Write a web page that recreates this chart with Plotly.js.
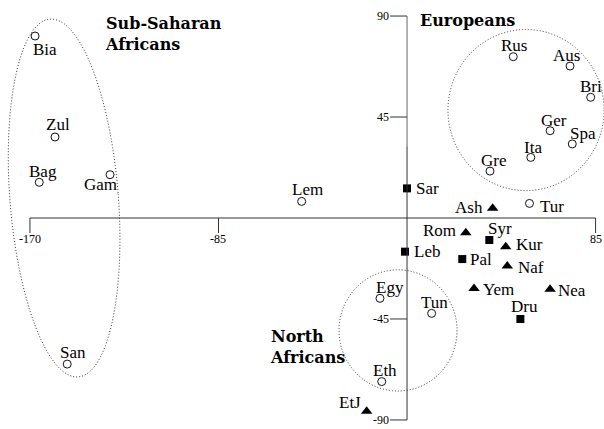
<!DOCTYPE html>
<html>
<head>
<meta charset="utf-8">
<script src="https://cdn.plot.ly/plotly-3.0.1.min.js"></script>
<style>
  html, body { margin: 0; padding: 0; background: #fff; }
  #chart { width: 604px; height: 429px; }
</style>
</head>
<body>
<div id="chart"></div>
<script>
// ---- data ----
const circleNames = ["Bia","Zul","Bag","Gam","San","Lem","Rus","Aus","Bri","Ger","Spa","Ita","Gre","Tur","Egy","Tun","Eth"];
const circleX     = [-167.7,-158.7,-165.8,-133.9,-153.2,-47.5,47.9,73.5,82.8,64.5,74.5,55.8,37.4,55.2,-12.2,11.1,-11.4];
const circleY     = [81.1,36.1,15.9,19.3,-65.1,7.4,71.9,67.7,53.8,38.9,33.0,27.0,20.9,6.5,-35.8,-42.5,-72.9];

const squareNames = ["Sar","Leb","Pal","Syr","Dru"];
const squareX     = [0,-0.9,24.9,37.1,51.1];
const squareY     = [13.2,-15.0,-18.3,-9.8,-45.0];

const triangleNames = ["Ash","Rom","Kur","Naf","Yem","Nea","EtJ"];
const triangleX     = [38.6,26.5,44.5,45.2,30.2,64.5,-18.2];
const triangleY     = [4.3,-6.6,-12.8,-21.4,-31.4,-31.8,-86.1];

const xTicks = [-170,-85,85];
const xTickLabels = ["-170","-85","85"];
const yTicks = [90,45,-45,-90];
const yTickLabels = ["90","45","-45","-90"];

const groupLabels = ["Sub-Saharan<br>Africans","Europeans","North<br>Africans"];

// ---- label placement (style: anchor, px offsets) ----
const labelPlace = {
  Bia:['center',10,13], Zul:['center',2.5,-12], Bag:['center',3.4,-11], Gam:['center',-10,10],
  San:['center',6,-11.5], Lem:['center',5.6,-12], Sar:['left',7,0], Rus:['center',0.5,-11.4],
  Aus:['center',-4,-10.5], Bri:['center',0,-11], Ger:['center',4,-10], Spa:['center',11,-10],
  Ita:['center',2.5,-10], Gre:['center',4,-11], Ash:['right',-8,-1], Tur:['left',9,3],
  Rom:['right',-8,-2], Syr:['center',11,-11], Kur:['left',8,-2], Leb:['left',7,0],
  Pal:['left',6,0], Naf:['left',9,1.5], Yem:['left',7,1], Nea:['left',6,1],
  Dru:['center',4,-12], Egy:['center',10,-11], Tun:['center',2.5,-11], Eth:['center',3.5,-11],
  EtJ:['right',-4,-9]
};

const SERIF = '"Liberation Serif", "Times New Roman", serif';
const BOLD = '"DejaVu Serif", "Liberation Serif", serif';

const traces = [
  { x: circleX, y: circleY, text: circleNames, type: 'scatter', mode: 'markers', hoverinfo: 'text',
    marker: { symbol: 'circle-open', size: 8, color: '#111', line: { width: 1, color: '#111' } } },
  { x: squareX, y: squareY, text: squareNames, type: 'scatter', mode: 'markers', hoverinfo: 'text',
    marker: { symbol: 'square', size: 8, color: '#000' } },
  { x: triangleX, y: triangleY, text: triangleNames, type: 'scatter', mode: 'markers', hoverinfo: 'text',
    marker: { symbol: 'triangle-up', size: 10, color: '#000' } }
];

const annotations = [];
function addLabels(names, xs, ys) {
  names.forEach((n, i) => {
    const p = labelPlace[n] || ['center', 0, -11];
    annotations.push({ x: xs[i], y: ys[i], xref: 'x', yref: 'y', text: n, showarrow: false,
      xanchor: p[0], yanchor: 'middle', xshift: p[1], yshift: -p[2],
      font: { family: SERIF, size: 17, color: '#000' } });
  });
}
addLabels(circleNames, circleX, circleY);
addLabels(squareNames, squareX, squareY);
addLabels(triangleNames, triangleX, triangleY);

// group titles
const groupPos = [[-137.1, 82.2], [5.0, 87.8], [-62.8, -57.6]];
groupLabels.forEach((t, i) => {
  annotations.push({ x: groupPos[i][0], y: groupPos[i][1], xref: 'x', yref: 'y', text: '<b>' + t + '</b>',
    showarrow: false, xanchor: 'left', yanchor: 'middle', align: 'left',
    font: { family: BOLD, size: 16, color: '#000' } });
});

// tick labels
xTicks.forEach((t, i) => {
  annotations.push({ x: t, y: 0, xref: 'x', yref: 'y', text: xTickLabels[i], showarrow: false,
    xanchor: 'center', yanchor: 'middle', yshift: -21, font: { family: SERIF, size: 12, color: '#000' } });
});
yTicks.forEach((t, i) => {
  annotations.push({ x: 0, y: t, xref: 'x', yref: 'y', text: yTickLabels[i], showarrow: false,
    xanchor: 'right', yanchor: 'middle', xshift: -16, font: { family: SERIF, size: 12, color: '#000' } });
});

// shapes: axes, ticks, group ellipses
const AX = '#333';
const shapes = [
  { type: 'line', xref: 'x', yref: 'y', x0: -170, x1: 85, y0: 0, y1: 0, line: { color: AX, width: 1 } },
  { type: 'line', xref: 'x', yref: 'y', x0: 0, x1: 0, y0: 32, y1: -90, line: { color: AX, width: 1 } },
  { type: 'line', xref: 'x', yref: 'y', x0: 0, x1: 0, y0: 90, y1: 32, line: { color: '#666', width: 1 } }
];
xTicks.forEach(t => shapes.push({ type: 'line', xref: 'x', yref: 'y', ysizemode: 'pixel', yanchor: 0,
  x0: t, x1: t, y0: 0, y1: -15, line: { color: AX, width: 1 } }));
yTicks.forEach(t => shapes.push({ type: 'line', xref: 'x', yref: 'y', xsizemode: 'pixel', xanchor: 0,
  x0: -17, x1: 0, y0: t, y1: t, line: { color: AX, width: 1 } }));

const DOT = { color: '#333', width: 1, dash: '1px,2px' };
// tilted ellipse around the Sub-Saharan group
(function () {
  const kx = 2.218, ky = 2.244, cx = -154.6, cy = 8.9, a = 179.5, b = 54.2, th = 4.5 * Math.PI / 180;
  let d = '';
  for (let k = 0; k <= 120; k++) {
    const t = 2 * Math.PI * k / 120;
    const dxp = b * Math.cos(t) * Math.cos(th) + a * Math.sin(t) * Math.sin(th);
    const dyp = -b * Math.cos(t) * Math.sin(th) + a * Math.sin(t) * Math.cos(th);
    d += (k === 0 ? 'M' : 'L') + (cx + dxp / kx).toFixed(3) + ',' + (cy - dyp / ky).toFixed(3);
  }
  shapes.push({ type: 'path', xref: 'x', yref: 'y', path: d + 'Z', line: DOT });
})();
shapes.push({ type: 'circle', xref: 'x', yref: 'y', x0: 53.65 - 35.2, x1: 53.65 + 35.2, y0: 48.1 - 35.9, y1: 48.1 + 35.9, line: DOT });
shapes.push({ type: 'circle', xref: 'x', yref: 'y', x0: -4.06 - 26.6, x1: -4.06 + 26.6, y0: -50.1 - 27.0, y1: -50.1 + 27.0, line: DOT });

const hidden = { visible: false, showgrid: false, zeroline: false, fixedrange: true };
const layout = {
  width: 604, height: 429,
  margin: { l: 0, r: 0, t: 0, b: 0 },
  paper_bgcolor: '#fff', plot_bgcolor: '#fff',
  showlegend: false,
  xaxis: Object.assign({ range: [-183.5, 88.8] }, hidden),
  yaxis: Object.assign({ range: [-94.03, 97.15] }, hidden),
  shapes: shapes,
  annotations: annotations
};

Plotly.newPlot('chart', traces, layout, { staticPlot: true, displayModeBar: false });
</script>
</body>
</html>
